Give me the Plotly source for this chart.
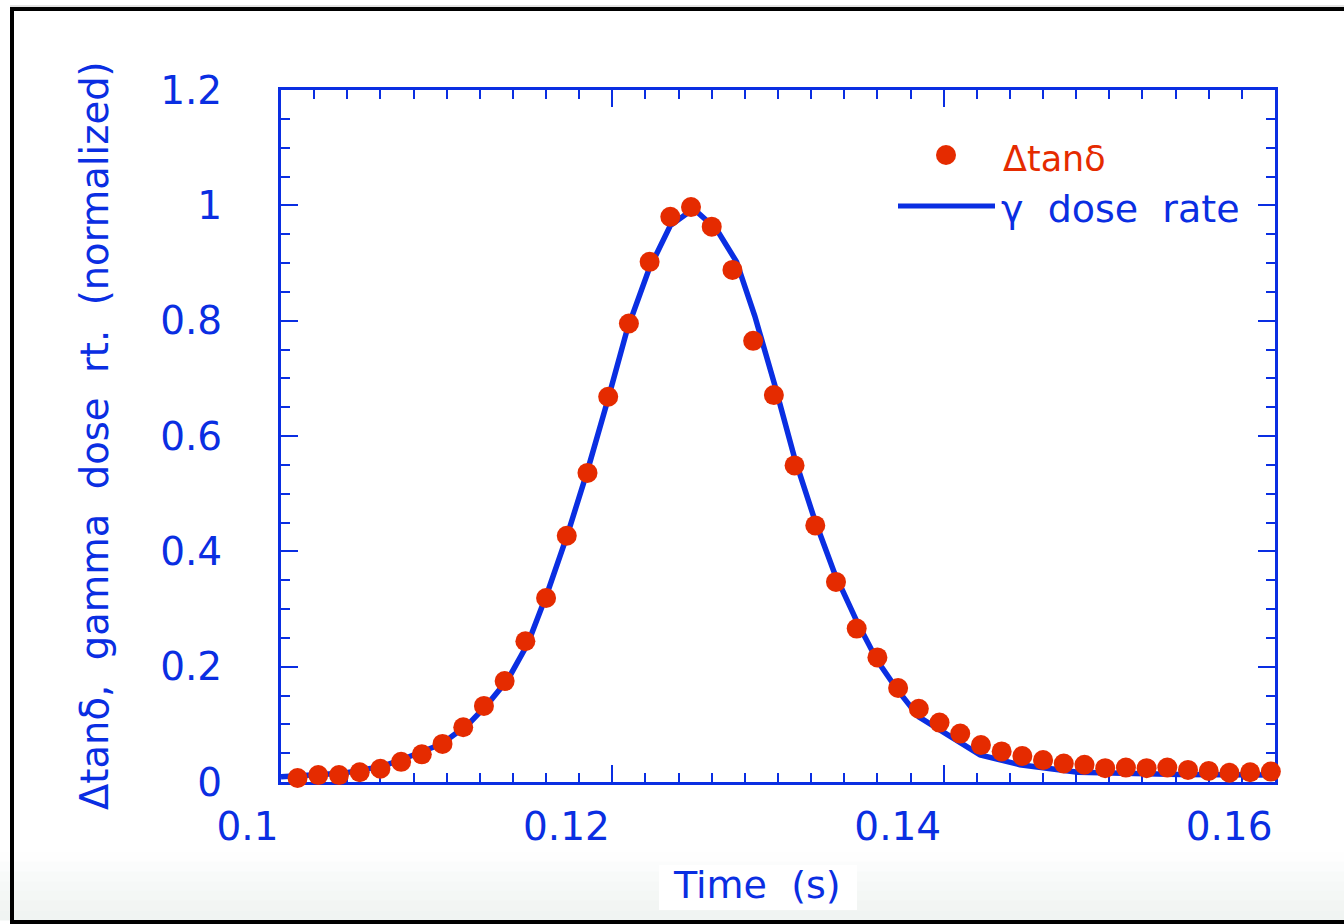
import plotly.graph_objects as go

# ---- data -------------------------------------------------------------
# Δtanδ measurements (normalized)
tan_time = [0.10100, 0.10225, 0.10350, 0.10475, 0.10600, 0.10725, 0.10850, 0.10975,
            0.11100, 0.11225, 0.11350, 0.11475, 0.11600, 0.11725, 0.11850, 0.11975,
            0.12100, 0.12225, 0.12350, 0.12475, 0.12600, 0.12725, 0.12850, 0.12975,
            0.13100, 0.13225, 0.13350, 0.13475, 0.13600, 0.13725, 0.13850, 0.13975,
            0.14100, 0.14225, 0.14350, 0.14475, 0.14600, 0.14725, 0.14850, 0.14975,
            0.15100, 0.15225, 0.15350, 0.15475, 0.15600, 0.15725, 0.15850, 0.15975]
tan_delta = [0.007, 0.012, 0.012, 0.017, 0.023, 0.035, 0.048, 0.066,
             0.095, 0.132, 0.175, 0.244, 0.319, 0.427, 0.536, 0.668,
             0.795, 0.902, 0.980, 0.997, 0.963, 0.888, 0.765, 0.671,
             0.549, 0.445, 0.347, 0.266, 0.216, 0.163, 0.127, 0.103,
             0.084, 0.064, 0.053, 0.045, 0.038, 0.032, 0.030, 0.024,
             0.025, 0.024, 0.025, 0.021, 0.019, 0.016, 0.017, 0.018]

# gamma dose rate (normalized)
dose_time = [0.1000, 0.1037, 0.1061, 0.1073, 0.1097, 0.1113, 0.1125, 0.1137,
             0.1149, 0.1161, 0.1173, 0.1185, 0.1197, 0.1209, 0.1222, 0.1235,
             0.1249, 0.1263, 0.1275, 0.1286, 0.1298, 0.1310, 0.1322, 0.1334,
             0.1348, 0.1360, 0.1372, 0.1385, 0.1422, 0.1446, 0.1481, 0.1543,
             0.1600]
dose_rate = [0.009, 0.015, 0.027, 0.039, 0.066, 0.100, 0.136, 0.178,
             0.240, 0.330, 0.430, 0.540, 0.660, 0.785, 0.888, 0.965,
             0.994, 0.958, 0.902, 0.808, 0.689, 0.562, 0.456, 0.363,
             0.276, 0.210, 0.160, 0.113, 0.047, 0.030, 0.017, 0.013,
             0.012]

x_tick_vals = [0.10, 0.12, 0.14, 0.16]
x_tick_text = ["0.1", "0.12", "0.14", "0.16"]
y_tick_vals = [0, 0.2, 0.4, 0.6, 0.8, 1.0, 1.2]
y_tick_text = ["0", "0.2", "0.4", "0.6", "0.8", "1", "1.2"]

# ---- style ------------------------------------------------------------
BLUE = "#0a2ee2"
RED = "#e52b00"
FONT = "DejaVu Sans"
W, H = 1344, 924
L, R, T, B = 281, 69, 90, 142
PW, PH = W - L - R, H - T - B


def px(x):
    """pixel column -> paper x"""
    return (x - L) / PW


def py(y):
    """pixel row -> paper y"""
    return (H - B - y) / PH


fig = go.Figure()

fig.add_trace(go.Scatter(
    x=dose_time, y=dose_rate, mode="lines",
    line=dict(color=BLUE, width=5.5), cliponaxis=False,
    name="γ dose rate", showlegend=False))

fig.add_trace(go.Scatter(
    x=tan_time, y=tan_delta, mode="markers",
    marker=dict(color=RED, size=20, line=dict(width=0)), cliponaxis=False,
    name="Δtanδ", showlegend=False))

axis_common = dict(
    showline=True, linecolor=BLUE, linewidth=3, mirror="ticks",
    ticks="inside", tickcolor=BLUE, tickwidth=2, ticklen=17,
    showgrid=False, zeroline=False, layer="below traces",
    tickfont=dict(family=FONT, size=39, color=BLUE),
)

fig.update_xaxes(
    range=[0.1, 0.16], tickvals=x_tick_vals, ticktext=x_tick_text,
    ticklabelposition="outside left", ticklabelstandoff=8,
    minor=dict(ticks="inside", dtick=0.002, ticklen=9, tickwidth=2, tickcolor=BLUE),
    **axis_common)
fig.update_yaxes(
    range=[0, 1.2], tickvals=y_tick_vals, ticktext=y_tick_text,
    ticklabelstandoff=48,
    minor=dict(ticks="inside", dtick=0.05, ticklen=9, tickwidth=2, tickcolor=BLUE),
    **axis_common)

shapes = []
# faint shading along the bottom edge
shade = ["#fefefe", "#fbfcfc", "#f8faf9", "#f6f8f7", "#f4f7f5", "#f2f5f3", "#f0f4f2"]
y_top = 852
step = (920 - y_top) / len(shade)
for i, c in enumerate(shade):
    shapes.append(dict(type="rect", xref="paper", yref="paper", layer="below",
                       x0=px(0), x1=px(W), y0=py(y_top + (i + 1) * step + 0.5),
                       y1=py(y_top + i * step), fillcolor=c, line_width=0))
# white band behind the x title
shapes.append(dict(type="rect", xref="paper", yref="paper", layer="below",
                   x0=px(659), x1=px(857), y0=py(910), y1=py(865),
                   fillcolor="white", line_width=0))
# black frame
frame = dict(type="line", xref="paper", yref="paper", layer="above",
             line=dict(color="black", width=4))
shapes.append(dict(frame, x0=px(12), x1=px(12), y0=py(7), y1=py(924)))
shapes.append(dict(frame, x0=px(10), x1=px(W), y0=py(9), y1=py(9)))
shapes.append(dict(frame, x0=px(10), x1=px(W), y0=py(922), y1=py(922)))
shapes.append(dict(type="line", xref="paper", yref="paper", layer="above",
                   x0=px(10), x1=px(W), y0=py(6), y1=py(6),
                   line=dict(color="#c8c8c8", width=1)))

# legend symbols
shapes.append(dict(type="circle", xref="paper", yref="paper",
                   xsizemode="pixel", ysizemode="pixel",
                   xanchor=px(946), yanchor=py(155),
                   x0=-10, x1=10, y0=-10, y1=10,
                   fillcolor=RED, line_width=0))
shapes.append(dict(type="line", xref="paper", yref="paper",
                   x0=px(898), x1=px(995), y0=py(206), y1=py(206),
                   line=dict(color=BLUE, width=5)))

annotations = [
    dict(text="Δtanδ", x=px(1001), y=py(159), xref="paper", yref="paper",
         xanchor="left", yanchor="middle", showarrow=False,
         font=dict(family=FONT, size=35, color=RED)),
    dict(text="γ\u00a0 dose\u00a0 rate", x=px(999), y=py(209), xref="paper", yref="paper",
         xanchor="left", yanchor="middle", showarrow=False,
         font=dict(family=FONT, size=38, color=BLUE)),
    dict(text="Time\u00a0 (s)", x=px(757), y=py(885), xref="paper", yref="paper",
         xanchor="center", yanchor="middle", showarrow=False,
         font=dict(family=FONT, size=38, color=BLUE)),
    dict(text="Δtanδ,\u00a0 gamma\u00a0 dose\u00a0 rt.\u00a0 (normalized)",
         x=px(94), y=py(436), xref="paper", yref="paper", textangle=-90,
         xanchor="center", yanchor="middle", showarrow=False,
         font=dict(family=FONT, size=38.5, color=BLUE)),
]

fig.update_layout(
    width=W, height=H,
    margin=dict(l=L, r=R, t=T, b=B, pad=0),
    paper_bgcolor="white", plot_bgcolor="white",
    showlegend=False,
    shapes=shapes, annotations=annotations,
)

fig.write_html("out.html")
